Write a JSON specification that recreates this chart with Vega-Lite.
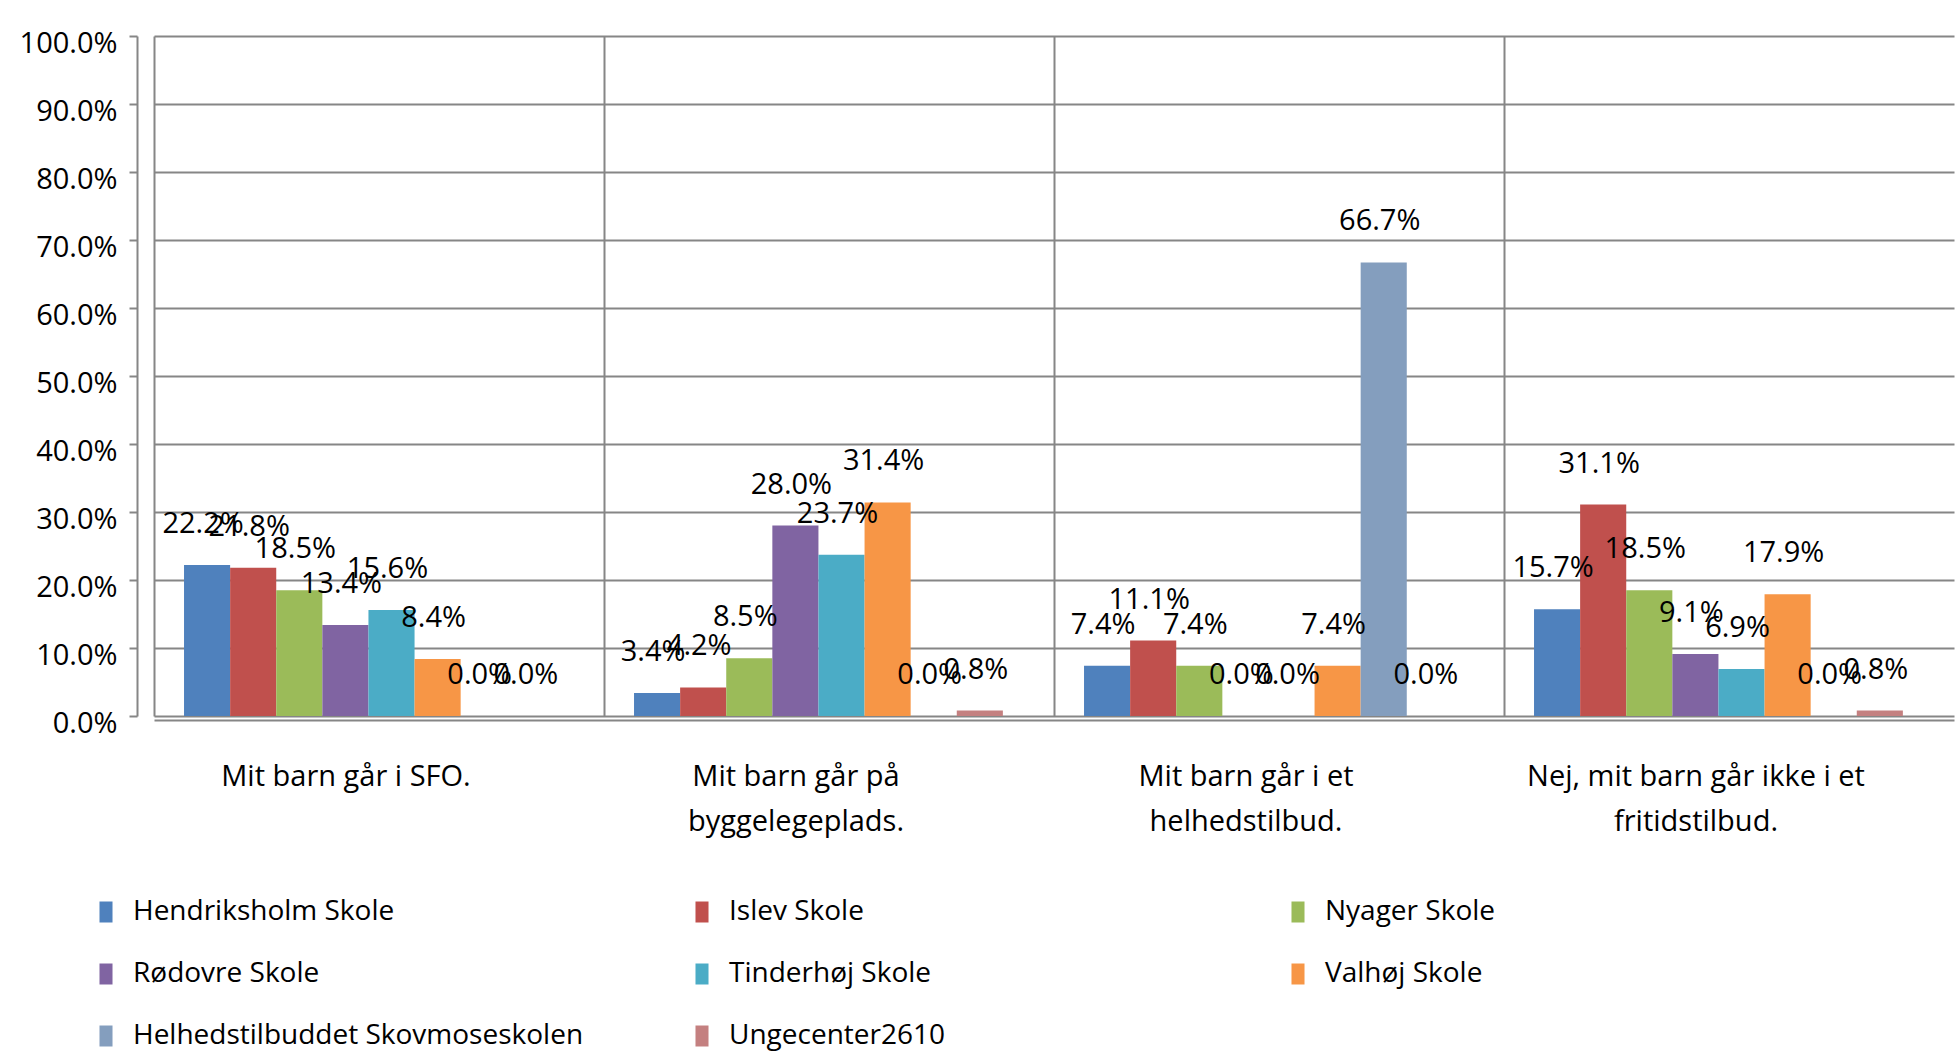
{
  "$schema": "https://vega.github.io/schema/vega-lite/v6.json",
  "width": 1800,
  "height": 680,
  "autosize": {"type": "none"},
  "padding": {"left": 154, "top": 36, "right": 3, "bottom": 338},
  "background": "white",
  "config": {
    "font": "Open Sans",
    "view": {"stroke": null},
    "axis": {"labelFont": "Open Sans", "labelColor": "#000000"}
  },
  "data": {
    "values": [
      {"category": "Mit barn går i SFO.", "school": "Hendriksholm Skole", "value": 0.222},
      {"category": "Mit barn går i SFO.", "school": "Islev Skole", "value": 0.218},
      {"category": "Mit barn går i SFO.", "school": "Nyager Skole", "value": 0.185},
      {"category": "Mit barn går i SFO.", "school": "Rødovre Skole", "value": 0.134},
      {"category": "Mit barn går i SFO.", "school": "Tinderhøj Skole", "value": 0.156},
      {"category": "Mit barn går i SFO.", "school": "Valhøj Skole", "value": 0.084},
      {"category": "Mit barn går i SFO.", "school": "Helhedstilbuddet Skovmoseskolen", "value": 0.0},
      {"category": "Mit barn går i SFO.", "school": "Ungecenter2610", "value": 0.0},
      {"category": "Mit barn går på byggelegeplads.", "school": "Hendriksholm Skole", "value": 0.034},
      {"category": "Mit barn går på byggelegeplads.", "school": "Islev Skole", "value": 0.042},
      {"category": "Mit barn går på byggelegeplads.", "school": "Nyager Skole", "value": 0.085},
      {"category": "Mit barn går på byggelegeplads.", "school": "Rødovre Skole", "value": 0.28},
      {"category": "Mit barn går på byggelegeplads.", "school": "Tinderhøj Skole", "value": 0.237},
      {"category": "Mit barn går på byggelegeplads.", "school": "Valhøj Skole", "value": 0.314},
      {"category": "Mit barn går på byggelegeplads.", "school": "Helhedstilbuddet Skovmoseskolen", "value": 0.0},
      {"category": "Mit barn går på byggelegeplads.", "school": "Ungecenter2610", "value": 0.008},
      {"category": "Mit barn går i et helhedstilbud.", "school": "Hendriksholm Skole", "value": 0.074},
      {"category": "Mit barn går i et helhedstilbud.", "school": "Islev Skole", "value": 0.111},
      {"category": "Mit barn går i et helhedstilbud.", "school": "Nyager Skole", "value": 0.074},
      {"category": "Mit barn går i et helhedstilbud.", "school": "Rødovre Skole", "value": 0.0},
      {"category": "Mit barn går i et helhedstilbud.", "school": "Tinderhøj Skole", "value": 0.0},
      {"category": "Mit barn går i et helhedstilbud.", "school": "Valhøj Skole", "value": 0.074},
      {"category": "Mit barn går i et helhedstilbud.", "school": "Helhedstilbuddet Skovmoseskolen", "value": 0.667},
      {"category": "Mit barn går i et helhedstilbud.", "school": "Ungecenter2610", "value": 0.0},
      {"category": "Nej, mit barn går ikke i et fritidstilbud.", "school": "Hendriksholm Skole", "value": 0.157},
      {"category": "Nej, mit barn går ikke i et fritidstilbud.", "school": "Islev Skole", "value": 0.311},
      {"category": "Nej, mit barn går ikke i et fritidstilbud.", "school": "Nyager Skole", "value": 0.185},
      {"category": "Nej, mit barn går ikke i et fritidstilbud.", "school": "Rødovre Skole", "value": 0.091},
      {"category": "Nej, mit barn går ikke i et fritidstilbud.", "school": "Tinderhøj Skole", "value": 0.069},
      {"category": "Nej, mit barn går ikke i et fritidstilbud.", "school": "Valhøj Skole", "value": 0.179},
      {"category": "Nej, mit barn går ikke i et fritidstilbud.", "school": "Helhedstilbuddet Skovmoseskolen", "value": 0.0},
      {"category": "Nej, mit barn går ikke i et fritidstilbud.", "school": "Ungecenter2610", "value": 0.008}
    ]
  },
  "encoding": {
    "x": {
      "field": "category",
      "type": "nominal",
      "sort": null,
      "title": null,
      "scale": {"paddingInner": 0, "paddingOuter": 0},
      "axis": {
        "labelAngle": 0,
        "labelFontSize": 29,
        "labelPadding": 42,
        "labelLineHeight": 45,
        "labelBaseline": "top",
        "labelLimit": 800,
        "labelOffset": -33,
        "ticks": false,
        "domain": true,
        "domainColor": "#868686",
        "domainWidth": 2,
        "offset": 4,
        "grid": true,
        "bandPosition": 0,
        "gridColor": "#868686",
        "gridWidth": 2,
        "labelExpr": "datum.value == 'Mit barn går på byggelegeplads.' ? ['Mit barn går på', 'byggelegeplads.'] : datum.value == 'Mit barn går i et helhedstilbud.' ? ['Mit barn går i et', 'helhedstilbud.'] : datum.value == 'Nej, mit barn går ikke i et fritidstilbud.' ? ['Nej, mit barn går ikke i et', 'fritidstilbud.'] : datum.value"
      }
    },
    "xOffset": {
      "field": "school",
      "type": "nominal",
      "sort": null,
      "scale": {"paddingInner": 0, "paddingOuter": 0.88, "align": 0.37}
    },
    "y": {
      "field": "value",
      "type": "quantitative",
      "title": null,
      "scale": {"domain": [0, 1]},
      "axis": {
        "format": ".1%",
        "values": [0, 0.1, 0.2, 0.3, 0.4, 0.5, 0.6, 0.7, 0.8, 0.9, 1.0],
        "labelFontSize": 29,
        "labelPadding": 12,
        "labelOffset": 7,
        "offset": 17,
        "domainColor": "#868686",
        "domainWidth": 2,
        "tickColor": "#868686",
        "tickWidth": 2,
        "tickSize": 8,
        "gridColor": "#868686",
        "gridWidth": 2
      }
    }
  },
  "layer": [
    {
      "mark": {"type": "bar"},
      "encoding": {
        "color": {
          "field": "school",
          "type": "nominal",
          "sort": null,
          "title": null,
          "scale": {
            "domain": ["Hendriksholm Skole", "Islev Skole", "Nyager Skole", "Rødovre Skole", "Tinderhøj Skole", "Valhøj Skole", "Helhedstilbuddet Skovmoseskolen", "Ungecenter2610"],
            "range": ["#4F81BD", "#C0504D", "#9BBB59", "#8064A2", "#4BACC6", "#F79646", "#849EBE", "#C48080"]
          },
          "legend": {
            "orient": "none",
            "legendX": -62,
            "legendY": 862,
            "direction": "horizontal",
            "columns": 3,
            "gridAlign": "all",
            "columnPadding": 104,
            "rowPadding": 34,
            "labelFontSize": 28,
            "labelFont": "Open Sans",
            "labelColor": "#000000",
            "labelOffset": 13,
            "labelLimit": 700,
            "symbolType": "M-0.62,-1L0.62,-1L0.62,1L-0.62,1Z",
            "symbolSize": 441,
            "symbolStrokeWidth": 0
          }
        }
      }
    },
    {
      "mark": {"type": "text", "fontSize": 29, "font": "Open Sans", "baseline": "alphabetic", "dy": -32, "dx": -4, "color": "#000000"},
      "encoding": {
        "text": {"field": "value", "type": "quantitative", "format": ".1%"}
      }
    }
  ]
}
